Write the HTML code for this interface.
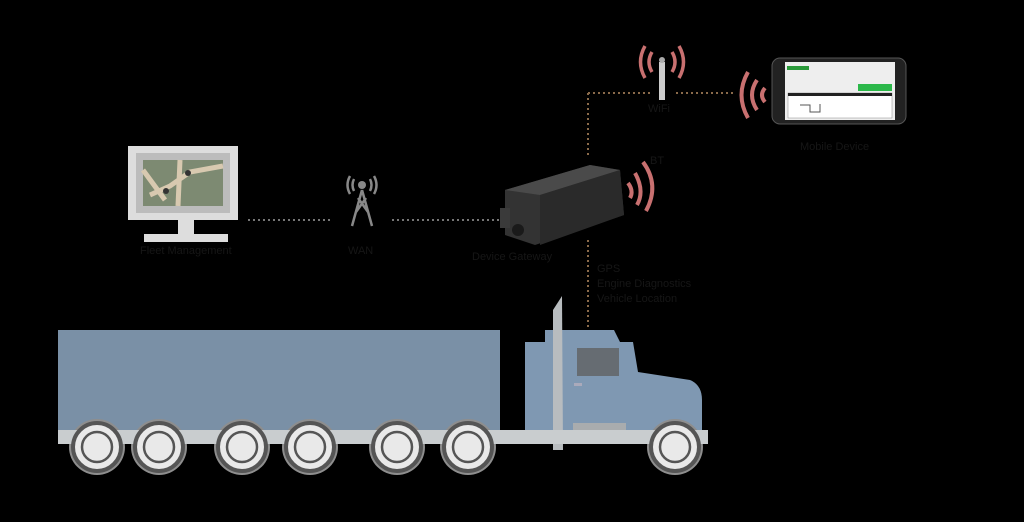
<!DOCTYPE html>
<html><head><style>
body{margin:0;background:#000;width:1024px;height:517px;overflow:hidden;font-family:"Liberation Sans",sans-serif}
</style></head><body>
<svg width="1024" height="517" viewBox="0 0 1024 517" xmlns="http://www.w3.org/2000/svg">
<rect width="1024" height="517" fill="#000"/>
<g stroke="#8a6a4a" stroke-width="2" stroke-dasharray="2 3" fill="none">
<line x1="588" y1="93" x2="650" y2="93"/>
<line x1="676" y1="93" x2="735" y2="93"/>
<line x1="588" y1="93" x2="588" y2="158"/>
<line x1="588" y1="240" x2="588" y2="330"/>
</g>
<g stroke="#777" stroke-width="2" stroke-dasharray="2 3" fill="none">
<line x1="248" y1="220" x2="330" y2="220"/>
<line x1="392" y1="220" x2="500" y2="220"/>
</g>
<rect x="128" y="146" width="110" height="74" fill="#ddd"/>
<rect x="136" y="153" width="94" height="60" fill="#bcbcbc"/>
<rect x="143" y="160" width="80" height="46" fill="#7d8a72"/>
<path d="M143 170 L165 200 M180 160 L178 206 M150 195 L170 186 L190 172 L223 166" stroke="#d8c9b0" stroke-width="5" fill="none"/>
<circle cx="188" cy="173" r="3" fill="#333"/><circle cx="166" cy="191" r="3" fill="#333"/>
<rect x="178" y="220" width="16" height="15" fill="#ddd"/>
<rect x="144" y="234" width="84" height="8" fill="#ddd"/>
<g stroke="#888" stroke-width="2.5" fill="none">
<path d="M362 190 L352 226 M362 190 L372 226 M356 212 L366 198 M368 212 L358 198"/>
<path d="M350 176 Q345 185 350 194 M374 176 Q379 185 374 194 M354 179 Q351 185 354 191 M370 179 Q373 185 370 191"/>
</g>
<circle cx="362" cy="185" r="4" fill="#888"/>
<path d="M505 190 L590 165 L620 170 L624 215 L535 245 L505 235 Z" fill="#333"/>
<path d="M505 190 L590 165 L620 170 L540 195 Z" fill="#4a4a4a"/>
<path d="M540 195 L620 170 L624 215 L540 245 Z" fill="#2a2a2a"/>
<rect x="500" y="208" width="10" height="20" fill="#3a3a3a"/>
<circle cx="518" cy="230" r="6" fill="#1a1a1a"/>
<g stroke="#c87070" stroke-width="4" fill="none">
<path d="M628 183 Q634 191 630 198"/>
<path d="M635 173 Q645 191 637 205"/>
<path d="M643 162 Q660 185 646 211"/>
</g>
<rect x="659" y="62" width="6" height="38" fill="#ccc"/>
<circle cx="662" cy="60" r="3" fill="#aaa"/>
<g stroke="#c87070" stroke-width="3.5" fill="none">
<path d="M652 52 Q646 62 652 72 M672 52 Q678 62 672 72"/>
<path d="M645 46 Q636 62 645 78 M679 46 Q688 62 679 78"/>
</g>
<g stroke="#c87070" stroke-width="4" fill="none">
<path d="M765 88 Q759 95 765 102"/>
<path d="M757 80 Q747 95 757 110"/>
<path d="M748 72 Q735 95 748 118"/>
</g>
<rect x="772" y="58" width="134" height="66" rx="8" fill="#222" stroke="#555"/>
<rect x="785" y="62" width="110" height="58" fill="#eee"/>
<rect x="787" y="66" width="22" height="4" fill="#2a9a3a"/>
<rect x="858" y="84" width="34" height="7" fill="#2cb84a"/>
<rect x="788" y="93" width="104" height="25" fill="#fff" stroke="#888" stroke-width="0.5"/>
<rect x="788" y="93" width="104" height="3" fill="#222"/>
<path d="M800 105 L810 105 L810 112 L820 112 L820 104" stroke="#555" fill="none"/>
<g fill="#161616" font-size="11">
<text x="140" y="254">Fleet Management</text>
<text x="348" y="254">WAN</text>
<text x="472" y="260">Device Gateway</text>
<text x="648" y="112">WiFi</text>
<text x="650" y="164">BT</text>
<text x="800" y="150">Mobile Device</text>
<text x="597" y="272">GPS</text>
<text x="597" y="287">Engine Diagnostics</text>
<text x="597" y="302">Vehicle Location</text>
</g>
<rect x="58" y="330" width="442" height="102" fill="#7a90a6"/>
<path d="M525 342 L545 342 L545 330 L614 330 L620 342 L633 342 L638 372 L690 380 Q702 385 702 400 L702 432 L525 432 Z" fill="#7f98b2"/>
<rect x="577" y="348" width="42" height="28" fill="#666c72"/>
<rect x="574" y="383" width="8" height="3" fill="#aab"/>
<rect x="573" y="423" width="53" height="15" fill="#a9acae"/>
<path d="M553 310 L562 296 L563 450 L553 450 Z" fill="#b8bcbf"/>
<g fill="#8e8e8e">
<circle cx="97" cy="447" r="28"/><circle cx="159" cy="447" r="28"/><circle cx="242" cy="447" r="28"/>
<circle cx="310" cy="447" r="28"/><circle cx="397" cy="447" r="28"/><circle cx="468" cy="447" r="28"/>
<circle cx="675" cy="447" r="28"/>
</g>
<rect x="58" y="430" width="650" height="14" fill="#c9cdcf"/>
<g fill="#e9e9e9" stroke="#555" stroke-width="4">
<circle cx="97" cy="447" r="24"/><circle cx="159" cy="447" r="24"/><circle cx="242" cy="447" r="24"/>
<circle cx="310" cy="447" r="24"/><circle cx="397" cy="447" r="24"/><circle cx="468" cy="447" r="24"/>
<circle cx="675" cy="447" r="24"/>
</g>
<g fill="none" stroke="#555" stroke-width="2.5">
<circle cx="97" cy="447" r="15"/><circle cx="159" cy="447" r="15"/><circle cx="242" cy="447" r="15"/>
<circle cx="310" cy="447" r="15"/><circle cx="397" cy="447" r="15"/><circle cx="468" cy="447" r="15"/>
<circle cx="675" cy="447" r="15"/>
</g>
</svg>
</body></html>
